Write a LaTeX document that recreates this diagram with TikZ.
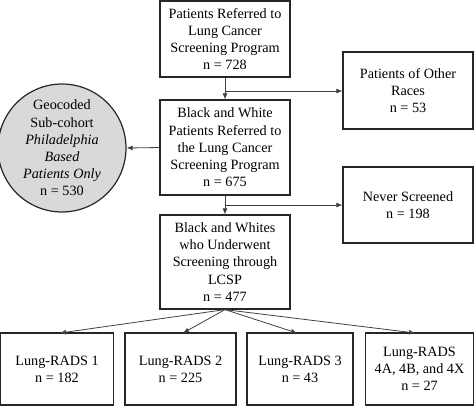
\documentclass[tikz,border=0pt]{standalone}
\usepackage{fontspec}
\setmainfont{Liberation Serif}
\usetikzlibrary{arrows.meta}
\begin{document}
\begin{tikzpicture}[x=1pt,y=-1pt,
  box/.style={draw=black!85,line width=1.2pt,align=center,inner sep=0pt,font=\fontsize{14.2}{17.2}\selectfont},
  arr/.style={draw=black!75,line width=0.8pt,-{Latex[length=6pt,width=5pt]}},
  ln/.style={draw=black!75,line width=0.8pt}]
\useasboundingbox (0,0) rectangle (474,405);
\node[box,minimum width=130pt,minimum height=76pt] (b1) at (225,39) {Patients Referred to\\Lung Cancer\\Screening Program\\n = 728};
\node[box,minimum width=130pt,minimum height=77pt] (oth) at (408,90.5) {Patients of Other\\Races\\n = 53};
\node[box,minimum width=130pt,minimum height=95pt] (b2) at (225,147.5) {Black and White\\Patients Referred to\\the Lung Cancer\\Screening Program\\n = 675};
\node[box,circle,fill=black!15,minimum size=128pt] (geo) at (62,148) {Geocoded\\Sub-cohort\\\itshape Philadelphia\\\itshape Based\\\itshape Patients Only\\n = 530};
\node[box,minimum width=130pt,minimum height=76pt] (nev) at (408,205) {Never Screened\\n = 198};
\node[box,minimum width=130pt,minimum height=94pt] (b3) at (225,262) {Black and Whites\\who Underwent\\Screening through\\LCSP\\n = 477};
\node[box,minimum width=113pt,minimum height=72pt] (r1) at (57,369) {Lung-RADS 1\\n = 182};
\node[box,minimum width=111pt,minimum height=72pt] (r2) at (180.5,369) {Lung-RADS 2\\n = 225};
\node[box,minimum width=106pt,minimum height=72pt] (r3) at (300,369) {Lung-RADS 3\\n = 43};
\node[box,minimum width=108pt,minimum height=72pt] (r4) at (419.5,369) {Lung-RADS\\4A, 4B, and 4X\\n = 27};
\coordinate (j1) at (b1.south |- 0,91);
\coordinate (j2) at (b2.south |- 0,205);
\draw[arr] (b1.south) -- (b2.north);
\draw[arr] (j1) -- (j1 -| oth.west);
\draw[arr] (b2.west) -- (geo.east);
\draw[arr] (b2.south) -- (b3.north);
\draw[arr] (j2) -- (j2 -| nev.west);
\coordinate (s) at (b3.south);
\draw[arr] (s) -- (60,333);
\draw[arr] (s) -- (183,333);
\draw[arr] (s) -- (297,333);
\draw[arr] (s) -- (415,333);
\end{tikzpicture}
\end{document}
